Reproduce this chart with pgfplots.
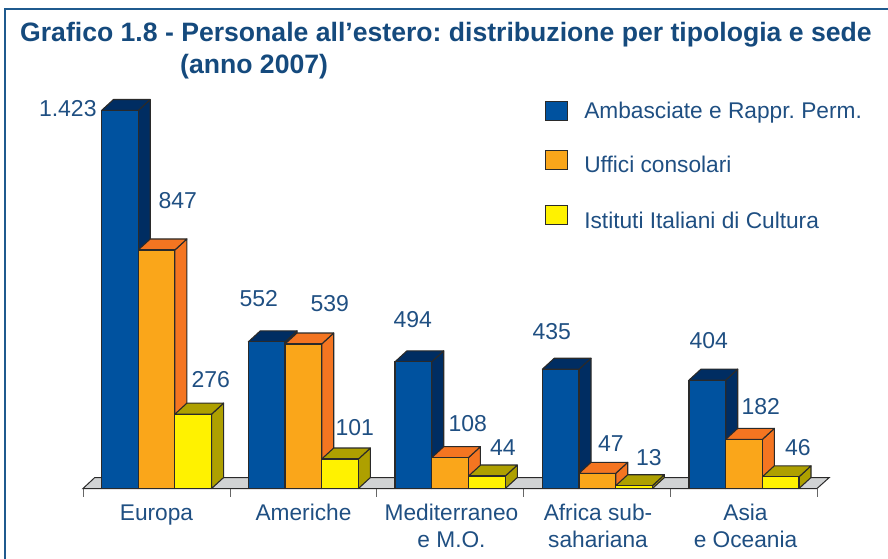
\documentclass[border=0pt]{standalone}
\usepackage{pgfplots}
\pgfplotsset{compat=1.18}
\usepackage{fontspec}
\setmainfont{Liberation Sans}
\frenchspacing
\definecolor{ink}{HTML}{1F4F82}
\definecolor{titleink}{HTML}{154A7D}
\definecolor{framec}{HTML}{1F5A8E}
\definecolor{edge}{HTML}{2A2A2A}
\definecolor{fblue}{HTML}{00529F}
\definecolor{sblue}{HTML}{002D62}
\definecolor{forange}{HTML}{FAA61A}
\definecolor{sorange}{HTML}{F47521}
\definecolor{fyellow}{HTML}{FFF200}
\definecolor{syellow}{HTML}{AEA000}
\definecolor{floorc}{HTML}{D1D3D4}
% #1 left edge of the bar (px), #2 bar height as drawn in the picture, #3 side colour
% Heights are read from the drawn bars, whose scale is not quite the printed labels'
% (the reference draws the 847 bar noticeably taller than its label implies).
\newcommand\barbox[3]{%
  \pgfmathsetmacro\xr{#1+36.7}%
  \pgfmathsetmacro\xrb{#1+48.7}%
  \pgfmathsetmacro\xlb{#1+12}%
  \pgfmathsetmacro\htop{#2+41.4}%
  \addplot[fill=#3,draw=edge,line width=1.1pt,line join=round,forget plot,mark=none]
    coordinates {(\xr,0) (\xrb,41.4) (\xrb,\htop) (\xr,#2)} -- cycle;
  \addplot[fill=#3,draw=edge,line width=1.1pt,line join=round,forget plot,mark=none]
    coordinates {(#1,#2) (\xlb,\htop) (\xrb,\htop) (\xr,#2)} -- cycle;
}
\newcommand\lab[3]{\node[anchor=center,text=ink,font=\fontsize{23}{26}\selectfont] at (#1pt+0.8pt,557pt-#2pt) {#3};}
\begin{document}
\begin{tikzpicture}[x=1pt,y=1pt]
\path[use as bounding box] (0,0) rectangle (888,558);
\begin{axis}[
  at={(83pt,69.5pt)},anchor=south west,
  scale only axis,width=734pt,height=488.5pt,
  xmin=83,xmax=817,ymin=0,ymax=1839,
  clip=false,
  axis x line=bottom,axis y line=none,
  x axis line style={-,draw=edge,line width=1pt},
  xtick={83,230,376.7,523.4,670.7,817},
  xticklabels={},
  tick align=outside,
  major tick length=8pt,
  x tick style={draw=gray!80!black,line width=1pt},
  extra x ticks={156.5,303.5,451.5,598,745.5},
  extra x tick labels={Europa,Americhe,{Mediterraneo\\e M.O.},{Africa sub-\\sahariana},{Asia\\e Oceania}},
  extra x tick style={major tick length=0pt,tick style={draw=none}},
  typeset ticklabels with strut,
  xticklabel style={align=center,text=ink,font=\fontsize{22.7}{27.5}\selectfont,inner sep=0pt,yshift=-12.5pt},
  legend cell align=left,
  legend style={at={(0.6294,0.796)},anchor=north west,draw=none,fill=none,
    font=\fontsize{22.7}{26}\selectfont,text=ink,row sep=28.5pt,inner sep=0pt,
    /tikz/every odd column/.append style={column sep=14pt}},
]
% floor
\addplot[fill=floorc,draw=edge,line width=1pt,forget plot,mark=none]
  coordinates {(83,0) (94.8,41.4) (829.3,41.4) (817,0)} -- cycle;
% sides and tops, left to right
\barbox{101.5}{1423}{sblue}\barbox{138.2}{898}{sorange}\barbox{174.9}{280}{syellow}
\barbox{248.3}{552}{sblue}\barbox{285}{544}{sorange}\barbox{321.7}{111}{syellow}
\barbox{395}{477}{sblue}\barbox{431.7}{116}{sorange}\barbox{468.6}{47}{syellow}
\barbox{542.3}{449}{sblue}\barbox{579}{57}{sorange}\barbox{615.7}{10.5}{syellow}
\barbox{689}{408}{sblue}\barbox{725.7}{185}{sorange}\barbox{762.3}{44}{syellow}
% front faces
\addplot[ybar,bar shift=0pt,bar width=36.7,fill=fblue,draw=edge,line width=1.1pt,
  legend image code/.code={\draw[fill=fblue,draw=edge,line width=1.1pt] (0pt,-9.5pt) rectangle (22pt,9.5pt);}]
  coordinates {(119.85,1423) (266.65,552) (413.35,477) (560.65,449) (707.35,408)};
\addlegendentry{Ambasciate e Rappr. Perm.}
\addplot[ybar,bar shift=0pt,bar width=36.7,fill=forange,draw=edge,line width=1.1pt,
  legend image code/.code={\draw[fill=forange,draw=edge,line width=1.1pt] (0pt,-4.5pt) rectangle (22pt,14.5pt);}]
  coordinates {(156.55,898) (303.35,544) (450.05,116) (597.35,57) (744.05,185)};
\addlegendentry{Uffici consolari}
\addplot[ybar,bar shift=0pt,bar width=36.7,fill=fyellow,draw=edge,line width=1.1pt,
  legend image code/.code={\draw[fill=fyellow,draw=edge,line width=1.1pt] (0pt,-3.5pt) rectangle (22pt,15.5pt);}]
  coordinates {(193.25,280) (340.05,111) (486.95,47) (634.05,10.5) (780.65,44)};
\addlegendentry{Istituti Italiani di Cultura}
\end{axis}
% printed values
\lab{67}{108}{1.423}\lab{177}{200}{847}\lab{210}{379}{276}
\lab{258}{298}{552}\lab{329}{303}{539}\lab{354}{427}{101}
\lab{412}{319}{494}\lab{467}{423}{108}\lab{502}{447}{44}
\lab{551}{331}{435}\lab{610}{443}{47}\lab{648}{457}{13}
\lab{708}{340}{404}\lab{760}{406}{182}\lab{797}{447}{46}
% frame and title
\draw[framec,line width=2.4pt] (4.7,-2) -- (4.7,549) -- (890,549);
\node[anchor=base west,inner sep=0pt,text=titleink,font=\fontsize{26.6}{30}\selectfont\bfseries] at (20,516.5)
  {Grafico 1.8 - Personale all’estero: distribuzione per tipologia e sede};
\node[anchor=base west,inner sep=0pt,text=titleink,font=\fontsize{26.6}{30}\selectfont\bfseries] at (180,484)
  {(anno 2007)};
\end{tikzpicture}
\end{document}
